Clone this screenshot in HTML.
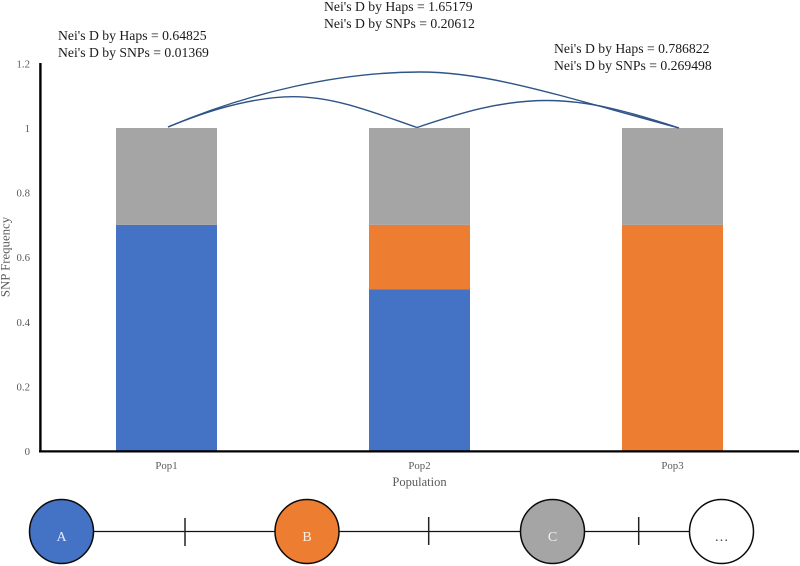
<!DOCTYPE html>
<html>
<head>
<meta charset="utf-8">
<title>SNP Frequency by Population</title>
<style>
html,body{margin:0;padding:0;background:#fff;}
body{width:800px;height:566px;overflow:hidden;}
svg{display:block;}
text{font-family:"Liberation Serif",serif;}
</style>
</head>
<body>
<svg id="chart" width="800" height="566" viewBox="0 0 800 566" xmlns="http://www.w3.org/2000/svg">
  <g id="bars"></g>
  <g id="y-ticks"></g>
  <g id="x-ticks"></g>
  <line x1="40.4" y1="63" x2="40.4" y2="452" stroke="#000" stroke-width="2.4"/>
  <line x1="39" y1="451.4" x2="799" y2="451.4" stroke="#000" stroke-width="2.3"/>
  <text transform="translate(9.5,257) rotate(-90)" text-anchor="middle" font-size="12.8" fill="#595959">SNP Frequency</text>
  <text x="419.5" y="486" text-anchor="middle" font-size="12.5" fill="#595959">Population</text>

  <path d="M168,127 C195,116 245,97 293,96.7 C335,96.5 375,113 417,127.5" fill="none" stroke="#2f5488" stroke-width="1.4"/>
  <path d="M417,127.5 C460,113 500,100.5 547,100.5 C590,100.5 630,112 679,128" fill="none" stroke="#2f5488" stroke-width="1.4"/>
  <path d="M168,127 C250,92 340,72 420,72 C490,72 560,96 679,128" fill="none" stroke="#2f5488" stroke-width="1.4"/>

  <g font-size="13.7" fill="#1a1a1a">
    <text x="58" y="40">Nei's D by Haps = 0.64825</text>
    <text x="58" y="57">Nei's D by SNPs = 0.01369</text>
    <text x="324" y="11">Nei's D by Haps = 1.65179</text>
    <text x="324" y="28">Nei's D by SNPs = 0.20612</text>
    <text x="554" y="53">Nei's D by Haps = 0.786822</text>
    <text x="554" y="70">Nei's D by SNPs = 0.269498</text>
  </g>

  <g>
    <line x1="94" y1="531.5" x2="690" y2="531.5" stroke="#111" stroke-width="1.3"/>
    <line x1="185" y1="518" x2="185" y2="546" stroke="#222" stroke-width="1.5"/>
    <line x1="428.7" y1="517" x2="428.7" y2="545" stroke="#222" stroke-width="1.5"/>
    <line x1="638.7" y1="517" x2="638.7" y2="545" stroke="#222" stroke-width="1.5"/>
    <circle cx="61.5" cy="531.5" r="32" fill="#4472c4" stroke="#0b0b0b" stroke-width="1.5"/>
    <circle cx="307" cy="531.5" r="32" fill="#ed7d31" stroke="#0b0b0b" stroke-width="1.5"/>
    <circle cx="552.5" cy="531.5" r="32" fill="#a5a5a5" stroke="#0b0b0b" stroke-width="1.5"/>
    <circle cx="721.5" cy="531.5" r="32" fill="#fff" stroke="#0b0b0b" stroke-width="1.5"/>
    <text x="61.5" y="541" text-anchor="middle" font-size="14" fill="#e8eefa">A</text>
    <text x="307" y="541" text-anchor="middle" font-size="14" fill="#fdf0e6">B</text>
    <text x="552.5" y="541" text-anchor="middle" font-size="14" fill="#f2f2f2">C</text>
    <text x="721.5" y="541" text-anchor="middle" font-size="14" fill="#404040">…</text>
  </g>
</svg>
<script>
const categories = ['Pop1', 'Pop2', 'Pop3'];
const blueValues = [0.7, 0.5, 0];
const orangeValues = [0, 0.2, 0.7];
const grayValues = [0.3, 0.3, 0.3];
const yTickValues = [0, 0.2, 0.4, 0.6, 0.8, 1, 1.2];

const NS = 'http://www.w3.org/2000/svg';
const yScale = function (v) { return 451 - v * 323; };
const xBand = function (i) { return 40 + 253 * i + 126.5; };
const BAR_WIDTH = 101;

const barsGroup = document.getElementById('bars');
const seriesList = [
  { key: 'blue', values: blueValues, color: '#4472c4' },
  { key: 'orange', values: orangeValues, color: '#ed7d31' },
  { key: 'gray', values: grayValues, color: '#a5a5a5' }
];

categories.forEach(function (cat, i) {
  let running = 0;
  seriesList.forEach(function (s) {
    const v = s.values[i];
    if (v > 0) {
      const r = document.createElementNS(NS, 'rect');
      r.setAttribute('x', xBand(i) - BAR_WIDTH / 2);
      r.setAttribute('y', yScale(running + v));
      r.setAttribute('width', BAR_WIDTH);
      r.setAttribute('height', yScale(running) - yScale(running + v));
      r.setAttribute('fill', s.color);
      
      
      barsGroup.appendChild(r);
    }
    running += v;
  });
});

const yTicksGroup = document.getElementById('y-ticks');
yTickValues.forEach(function (v) {
  const t = document.createElementNS(NS, 'text');
  t.setAttribute('x', 30);
  t.setAttribute('y', yScale(v) + 4);
  t.setAttribute('text-anchor', 'end');
  t.setAttribute('font-size', '10.8');
  t.setAttribute('fill', '#595959');
  
  
  t.textContent = String(v);
  yTicksGroup.appendChild(t);
});

const xTicksGroup = document.getElementById('x-ticks');
categories.forEach(function (cat, i) {
  const t = document.createElementNS(NS, 'text');
  t.setAttribute('x', xBand(i));
  t.setAttribute('y', 469);
  t.setAttribute('text-anchor', 'middle');
  t.setAttribute('font-size', '10.8');
  t.setAttribute('fill', '#595959');
  
  
  t.textContent = cat;
  xTicksGroup.appendChild(t);
});
</script>
</body>
</html>
